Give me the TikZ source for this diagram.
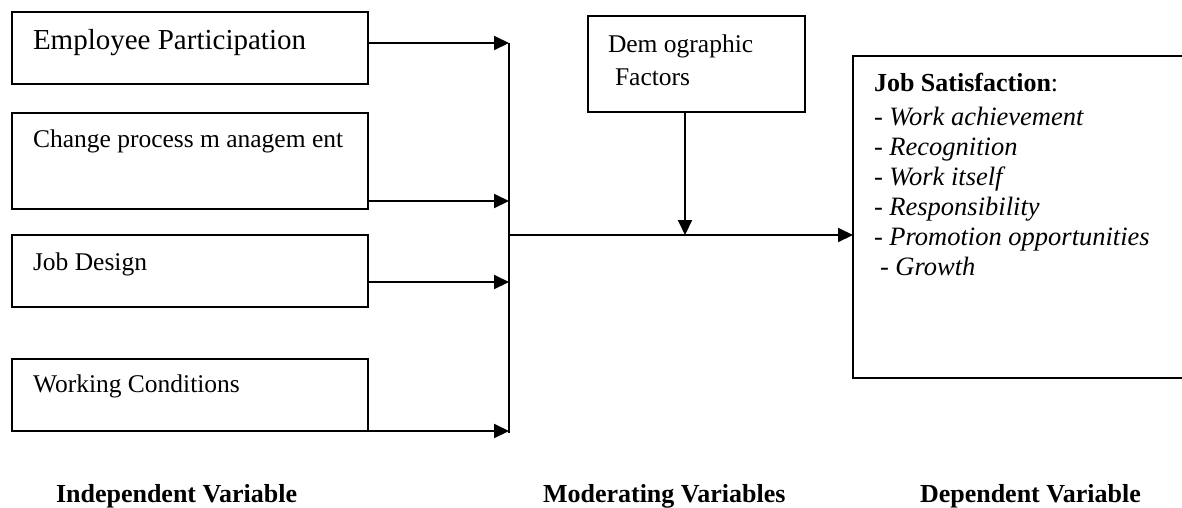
\documentclass[tikz,border=0pt]{standalone}
\usepackage{fontspec}
\setmainfont{Liberation Serif}
\usetikzlibrary{arrows.meta}

\begin{document}
\begin{tikzpicture}[
    x=1pt, y=-1pt,
    line width=2pt,
    >={Triangle[length=15pt,width=14pt]},
    varbox/.style={
        draw,
        anchor=north west,
        inner sep=0pt,
        outer sep=0pt
    },
    boxtext/.style={
        anchor=base west,
        inner sep=0pt,
        font=\fontsize{25.5}{30}\selectfont
    },
    itemtext/.style={
        anchor=base west,
        inner sep=0pt,
        font=\fontsize{26.5}{30}\selectfont
    },
    varlabel/.style={
        anchor=base west,
        inner sep=0pt,
        font=\fontsize{26}{30}\selectfont\bfseries
    }
]
    \path[use as bounding box,clip] (0,0) rectangle (1182,507);

    % independent variables
    \node[varbox, minimum width=356pt, minimum height=72pt] (partic) at (12,12) {};
    \node[varbox, minimum width=356pt, minimum height=96pt] (change) at (12,113) {};
    \node[varbox, minimum width=356pt, minimum height=72pt] (design) at (12,235) {};
    \node[varbox, minimum width=356pt, minimum height=72pt] (cond) at (12,359) {};

    \node[boxtext, font=\fontsize{29}{34}\selectfont] (particlbl) at (32,49)
        {Employee Participation};
    \node[boxtext] (changelbl) at (32,147) {Change process m anagem ent};
    \node[boxtext] (designlbl) at (32,270) {Job Design};
    \node[boxtext] (condlbl) at (32,392) {Working Conditions};

    % collecting line
    \coordinate (bustop) at (509,43);
    \coordinate (bus2) at (509,201);
    \coordinate (bus3) at (509,282);
    \coordinate (busbot) at (509,431);
    \coordinate (junc) at (509,235);
    \draw (bustop) -- ([yshift=-2pt]busbot);
    \draw[->] (partic.east |- bustop) -- (bustop);
    \draw[->] (change.east |- bus2) -- (bus2);
    \draw[->] (design.east |- bus3) -- (bus3);
    \draw[->] (cond.south east |- busbot) -- (busbot);

    % moderating variable
    \node[varbox, minimum width=217pt, minimum height=96pt] (demo) at (588,16) {};
    \node[boxtext] (demolbl1) at (607,52) {Dem ographic};
    \node[boxtext] (demolbl2) at (614,85) {Factors};
    \coordinate (mod) at (685,235);
    \draw[->] (demo.south -| mod) -- (mod);

    % dependent variable
    \node[varbox, minimum width=347pt, minimum height=322pt] (sat) at (853,56) {};
    \draw[->] (junc) -- (sat.west |- junc);

    \node[boxtext, font=\fontsize{26}{30}\selectfont] (sattitle) at (873,91)
        {\textbf{Job Satisfaction}:};
    \node[itemtext] (item1) at (873,125) {- \textit{Work achievement}};
    \node[itemtext] (item2) at (873,155) {- \textit{Recognition}};
    \node[itemtext] (item3) at (873,185) {- \textit{Work itself}};
    \node[itemtext] (item4) at (873,215) {- \textit{Responsibility}};
    \node[itemtext] (item5) at (873,245) {- \textit{Promotion opportunities}};
    \node[itemtext] (item6) at (879,275) {- \textit{Growth}};

    % captions
    \node[varlabel] (indep) at (55,502) {Independent Variable};
    \node[varlabel] (moder) at (542,502) {Moderating Variables};
    \node[varlabel] (depen) at (919,502) {Dependent Variable};
\end{tikzpicture}
\end{document}
